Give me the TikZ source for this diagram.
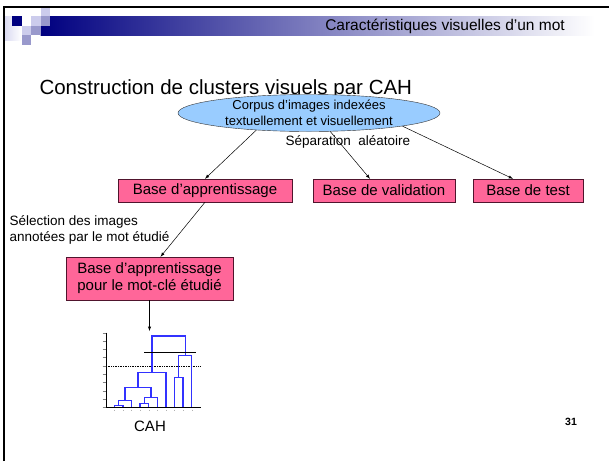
\documentclass[tikz,border=0pt]{standalone}
\usepackage{fontspec}
\setmainfont{Liberation Sans}
\usepackage{tikz}
\usetikzlibrary{arrows,shapes.geometric}

\definecolor{boxpink}{RGB}{255,102,153}
\definecolor{boxline}{RGB}{80,20,45}
\definecolor{corpusblue}{RGB}{153,204,255}
\definecolor{deepnavy}{RGB}{0,0,128}
\definecolor{midlav}{RGB}{153,153,204}
\definecolor{palelav}{RGB}{204,204,236}
\definecolor{dendroblue}{RGB}{50,50,255}

\begin{document}
\begin{tikzpicture}[x=1pt,y=-1pt,
    pinkbox/.style={draw=boxline, fill=boxpink, inner sep=0pt, minimum height=23pt,
        align=center, font=\fontsize{15}{17}\selectfont},
    corpus/.style={ellipse, draw=black!80, fill=corpusblue, inner sep=0pt,
        minimum width=262pt, minimum height=37pt, align=center, font=\fontsize{13}{15.5}\selectfont},
    flowline/.style={-latex, line width=0.5pt},
    dendro/.style={dendroblue, line width=1.3pt}]
\useasboundingbox (0,0) rectangle (609,461);
\fill[white] (0,0) rectangle (609,461);

% header band
\shade[left color=palelav!70, right color=white] (5,16) rectangle (21.5,40);
\shade[left color=deepnavy, right color=white] (40.5,16) rectangle (595,35);
\fill[palelav] (40.5,8) rectangle (50,16);
\fill[deepnavy] (12,16) rectangle (21.5,25.5);
\fill[palelav] (31,16) rectangle (40.5,25.5);
\fill[midlav] (40.5,16) rectangle (50,25.5);
\fill[palelav] (21.5,25.5) rectangle (31,35);
\fill[midlav] (31,25.5) rectangle (40.5,35);
\fill[midlav] (21.5,35) rectangle (31,44.5);
\draw[line width=2pt] (4,461) -- (4,7) -- (609,7);
\node (head) at (445,26.5) {\fontsize{15.5}{17}\selectfont Caractéristiques visuelles d'un mot};

\node[anchor=west] (title) at (36,89) {\fontsize{20.5}{24}\selectfont Construction de clusters visuels par CAH};

% flow
\node[corpus] (corpus) at (309,113) {Corpus d'images indexées\\textuellement et visuellement};
\node[anchor=west, font=\fontsize{13.5}{16}\selectfont] (sep) at (282,142) {Séparation\ \ aléatoire};
\node[pinkbox, minimum width=174pt] (app) at (205,190.5) {Base d'apprentissage};
\node[pinkbox, minimum width=142pt] (val) at (384,190.5) {Base de validation};
\node[pinkbox, minimum width=110pt] (test) at (528,190.5) {Base de test};
\node[anchor=west, align=left, font=\fontsize{13.5}{16}\selectfont] (sel) at (6,230) {Sélection des images\\annotées par le mot étudié};
\node[pinkbox, minimum width=167pt, minimum height=43pt] (motcle) at (149.5,278.5) {Base d'apprentissage\\pour le mot-clé étudié};

\draw[flowline] (corpus.198) -- (app.north);
\draw[flowline] (corpus.319) -- ([xshift=-14pt]val.north);
\draw[flowline] (corpus.352) -- ([xshift=-15pt]test.north);
\draw[flowline] (app.south) -- ([xshift=11pt]motcle.north);

% dendrogram
\coordinate (cahtop) at (149.5,331);
\draw[flowline] (motcle.south) -- (cahtop);
\foreach \k in {0,...,9}
    \draw[gray, very thin] (102.5,332.7+8.29*\k) -- (106,332.7+8.29*\k);
\foreach \i in {0,...,9}
    \draw[gray!60, very thin] (114.3+8.6*\i,409.5) -- ++(0,1.5);
\draw[densely dotted, line width=0.7pt] (106,366.3) -- (200.7,366.3);
\foreach \a/\b/\h/\ha/\hb in {114.3/122.9/405.3/407.3/407.3, 118.6/131.5/400.3/405.3/407.3,
        140.1/148.7/403.7/407.3/407.3, 144.4/157.3/397.3/403.7/407.3,
        125/150.9/387.3/400.3/397.3, 138/165.9/372.7/387.3/407.3,
        174.5/183.1/377.7/407.3/407.3, 178.8/191.7/355.3/377.7/407.3,
        152/185.2/336/372.7/355.3}
    \draw[dendro] (\a,\ha) |- (\b,\h) -- (\b,\hb);
\draw[line width=1pt] (106,332.7) -- (106,407.3) -- (200.7,407.3);
\draw[line width=1.1pt] (144,352.7) -- (196,352.7);
\node[font=\fontsize{15}{17}\selectfont] (cah) at (150,426) {CAH};

\node[font=\fontsize{10.5}{12}\selectfont\bfseries] (page) at (571,422) {31};
\end{tikzpicture}
\end{document}
